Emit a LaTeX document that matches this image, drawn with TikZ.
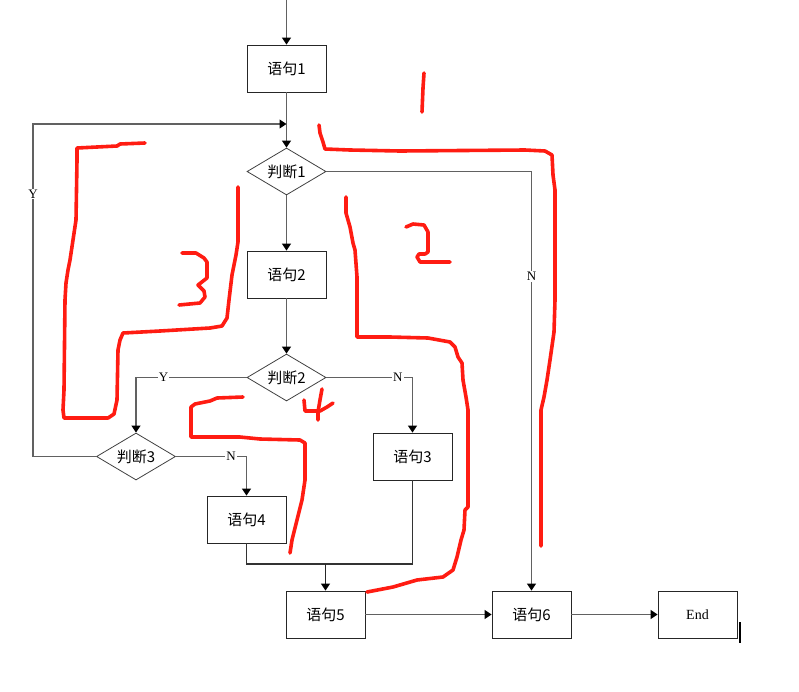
\documentclass[tikz,border=0pt]{standalone}
\usepackage{fontspec}
\setmainfont{Liberation Serif}
\newfontfamily\cjk{Noto Sans CJK SC}
\usetikzlibrary{shapes.geometric,arrows.meta}
\tikzset{
  box/.style={draw=black!85, line width=0.9pt, minimum width=79pt, minimum height=47pt, inner sep=0pt, font=\cjk\fontsize{15}{17}\selectfont},
  dec/.style={draw=black!75, line width=0.8pt, diamond, aspect=1.68, minimum width=79pt, minimum height=47pt, inner sep=0pt, font=\cjk\fontsize{15}{17}\selectfont},
  conn/.style={draw=black!62, line width=1.1pt},
  arr/.style={conn, -{Triangle[length=7pt,width=9pt,color=black]}},
  lab/.style={fill=white, inner sep=1pt, font=\fontsize{13}{14}\selectfont},
  ink/.style={draw={rgb,255:red,255;green,28;blue,18}, line width=3.6pt, line cap=round, line join=round}
}
\begin{document}
\begin{tikzpicture}[x=1pt,y=-1pt]
\useasboundingbox (0,0) rectangle (799,691);
% nodes
\node[box] (s1) at (286.5,68.5) {语句1};
\node[dec] (d1) at (286.5,171.5) {判断1};
\node[box] (s2) at (286.5,274.5) {语句2};
\node[dec] (d2) at (286.5,377.5) {判断2};
\node[dec] (d3) at (136,456.5) {判断3};
\node[box] (s3) at (412.5,456.5) {语句3};
\node[box] (s4) at (246.5,519.5) {语句4};
\node[box] (s5) at (325.5,614.5) {语句5};
\node[box] (s6) at (531.5,614.5) {语句6};
\node[box, font=\fontsize{14}{16}\selectfont] (e) at (697.5,614.5) {End};
% coordinates
\coordinate (top) at (286.5,0);
\coordinate (loopin) at (286.5,124);
\coordinate (lc1) at (33,456.5);
\coordinate (lc2) at (33,124);
\coordinate (jn) at (325.5,564);
% connectors
\draw[arr] (top) -- (s1.north);
\draw[arr] (s1.south) -- (d1.north);
\draw[arr] (d3.west) -- (lc1) -- node[lab, pos=0.79]{Y} (lc2) -- (loopin);
\draw[arr] (d1.south) -- (s2.north);
\draw[arr] (s2.south) -- (d2.north);
\draw[arr] (d2.west) -- node[lab, pos=0.75]{Y} (d3.north |- d2.west) -- (d3.north);
\draw[arr] (d2.east) -- node[lab, pos=0.83]{N} (s3.north |- d2.east) -- (s3.north);
\draw[arr] (d3.east) -- node[lab, pos=0.78]{N} (s4.north |- d3.east) -- (s4.north);
\draw[conn, draw=black!80] (s4.south) -- (s4.south |- jn) -- (s3.south |- jn) -- (s3.south);
\draw[arr, draw=black!85, line width=1.4pt] (jn) -- (s5.north);
\draw[arr] (s5.east) -- (s6.west);
\draw[arr] (d1.east) -- (s6.north |- d1.east) -- node[lab, pos=0.25]{N} (s6.north);
\draw[arr] (s6.east) -- (e.west);
% cursor bar
\draw[black, line width=2pt] (740,622) -- (740,643);
% red annotations
\draw[ink] (424,73) -- (423,88) -- (422,112);
\draw[ink] (319,125) -- (320,133) -- (323,142) -- (325,149) -- (350,150) -- (400,151) -- (525,150) -- (545,151) -- (552,155) -- (553,175) -- (555,190) -- (555,300) -- (554,332) -- (550,360) -- (547,380) -- (544,397) -- (541,410) -- (541,546);
\draw[ink] (346,197) -- (346,213) -- (350,227) -- (353,243) -- (355,250) -- (357,277) -- (357,337) -- (390,337) -- (428,338) -- (450,342) -- (455,347) -- (458,357) -- (462,363) -- (463,380) -- (466,397) -- (468,410) -- (468,507) -- (465,510) -- (464,530) -- (461,540) -- (457,557) -- (453,570) -- (443,577) -- (417,580) -- (393,587) -- (367,592);
\draw[ink] (406,227) -- (413,224) -- (424,225) -- (428,232) -- (428,252) -- (425,254) -- (419,254) -- (417,257) -- (420,262) -- (450,262);
\draw[ink] (145,143) -- (120,144) -- (117,146) -- (77,148) -- (77,160) -- (76,220) -- (73,240) -- (70,260) -- (68,270) -- (66,283) -- (65,300) -- (64,390) -- (63,410) -- (64,418) -- (108,418) -- (114,414) -- (117,400) -- (118,350) -- (120,340) -- (123,333) -- (160,331) -- (210,328) -- (222,326) -- (227,318) -- (229,300) -- (232,275) -- (236,255) -- (238,242) -- (238,187);
\draw[ink] (182,253) -- (196,253) -- (204,258) -- (207,262) -- (207,278) -- (198,285) -- (204,291) -- (205,297) -- (200,303) -- (179,305);
\draw[ink] (322,389) -- (320,400) -- (318,412) -- (318,420);
\draw[ink] (304,400) -- (305,411) -- (320,411) -- (327,407) -- (333,403);
\draw[ink] (243,397) -- (217,398) -- (210,401) -- (195,404) -- (191,407) -- (191,430) -- (191,437) -- (240,437) -- (260,439) -- (300,440) -- (305,443) -- (305,480) -- (302,500) -- (297,520) -- (292,540) -- (290,553);
\end{tikzpicture}
\end{document}
